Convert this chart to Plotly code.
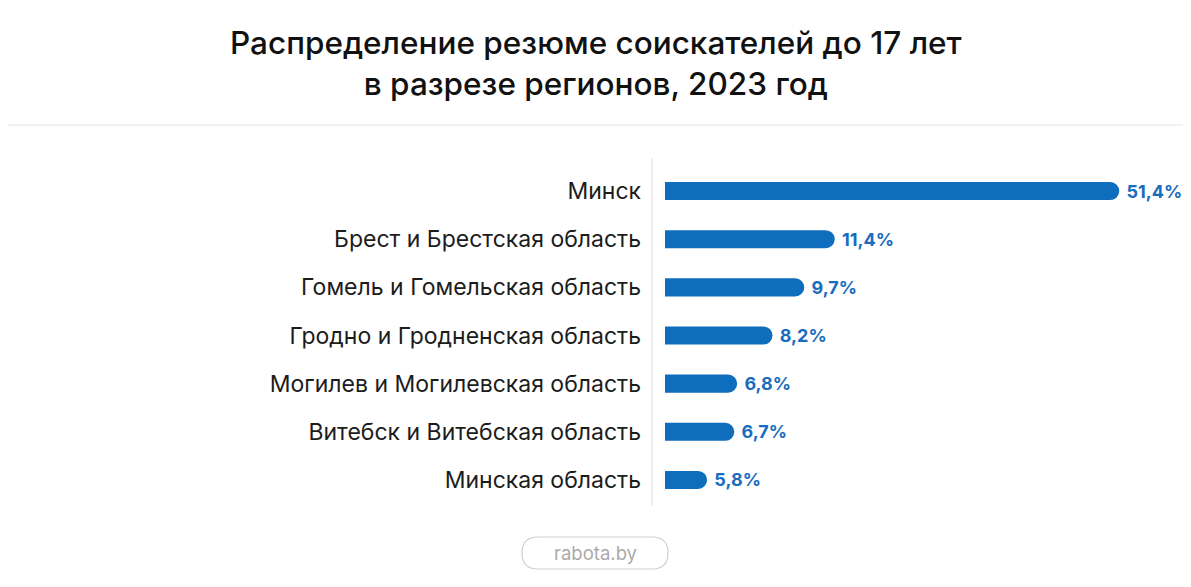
import plotly.graph_objects as go

categories = [
    "Минск",
    "Брест и Брестская область",
    "Гомель и Гомельская область",
    "Гродно и Гродненская область",
    "Могилев и Могилевская область",
    "Витебск и Витебская область",
    "Минская область",
]
values = [51.4, 11.4, 9.7, 8.2, 6.8, 6.7, 5.8]
value_labels = ["\u00a0" + f"{v:.1f}%".replace(".", ",") for v in values]

title_text = "Распределение резюме соискателей до 17 лет<br>в разрезе регионов, 2023 год"
source_text = "rabota.by"

OFF = 8  # page body margin
W, H = 1191 - OFF, 587 - OFF
ML = 665 - OFF
MT = 167 - OFF
MR = W - (1180 - OFF)
MB = H - (504 - OFF)
PW = W - ML - MR
PH = H - MT - MB

def px_x(x):
    return (x - OFF - ML) / PW

def px_y(y):
    return (H - MB - (y - OFF)) / PH

BAR = "#0f6dbd"
FONT = "Inter, Roboto, sans-serif"

fig = go.Figure(
    go.Bar(
        y=categories,
        x=values,
        orientation="h",
        marker=dict(color=BAR, line=dict(width=0)),
        width=0.375,
        text=value_labels,
        textposition="outside",
        constraintext="none",
        textfont=dict(family=FONT, size=18, color="#1a6cc0", weight=700),
        cliponaxis=False,
        hoverinfo="skip",
    )
)

shapes = [
    dict(type="line", xref="paper", yref="paper",
         x0=px_x(0), x1=px_x(1191), y0=px_y(125), y1=px_y(125),
         line=dict(color="#e3e3e3", width=1)),
    dict(type="line", xref="paper", yref="paper",
         x0=px_x(652), x1=px_x(652), y0=px_y(158), y1=px_y(506),
         line=dict(color="#dcdcdc", width=1)),
]

x0, x1, y0, y1, r = 522, 668, 537, 569, 16
def P(x, y):
    return f"{px_x(x):.5f},{px_y(y):.5f}"
path = (f"M {P(x0 + r, y0)} L {P(x1 - r, y0)} Q {P(x1, y0)} {P(x1, y0 + r)} "
        f"Q {P(x1, y1)} {P(x1 - r, y1)} L {P(x0 + r, y1)} Q {P(x0, y1)} {P(x0, y1 - r)} "
        f"Q {P(x0, y0)} {P(x0 + r, y0)} Z")
shapes.append(dict(type="path", xref="paper", yref="paper", path=path,
                   line=dict(color="#cfcfcf", width=1.2)))

annotations = [
    dict(text=title_text, xref="paper", yref="paper", x=px_x(596), y=px_y(63),
         xanchor="center", yanchor="middle", showarrow=False, align="center",
         font=dict(family=FONT, size=31.5, color="#111111", weight=500)),
    dict(text=source_text, xref="paper", yref="paper", x=px_x(595), y=px_y(553),
         xanchor="center", yanchor="middle", showarrow=False,
         font=dict(family=FONT, size=18.5, color="#aaaaaa")),
]

fig.update_layout(
    width=W, height=H,
    margin=dict(l=ML, r=MR, t=MT, b=MB, pad=0),
    paper_bgcolor="white", plot_bgcolor="white",
    showlegend=False,
    barcornerradius=9,
    xaxis=dict(type="log", range=[0.6667, 1.8506], visible=False, fixedrange=True),
    yaxis=dict(autorange="reversed", showgrid=False, zeroline=False, showline=False,
               ticks="", ticklabelstandoff=23,
               tickfont=dict(family=FONT, size=23, color="#1c1c1c"),
               fixedrange=True),
    shapes=shapes,
    annotations=annotations,
)

fig.write_html("out.html")
